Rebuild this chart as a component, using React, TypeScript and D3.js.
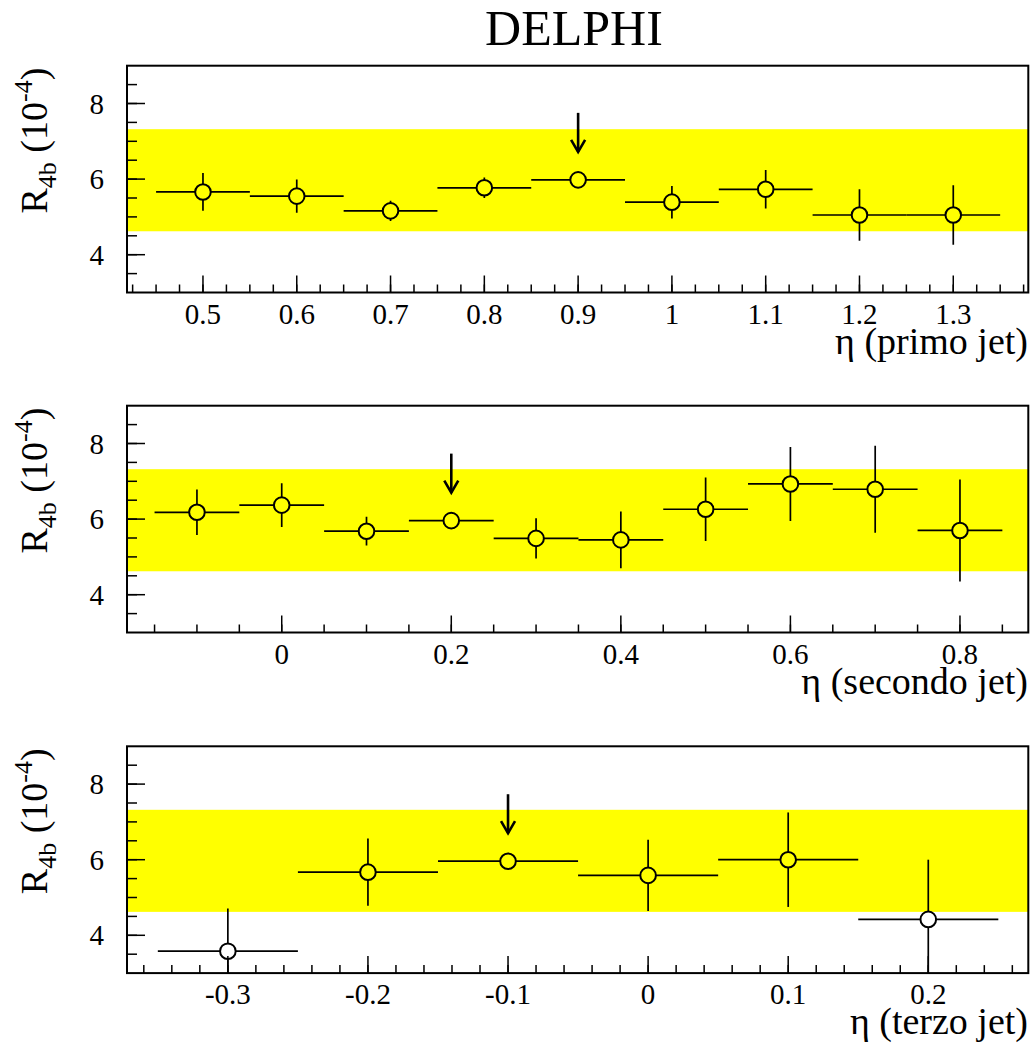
import React from 'react';
import * as d3 from 'd3';

// ---------- data ----------
const title = 'DELPHI';
const yLabelMain = 'R';
const yLabelSub = '4b';
const yLabelExpBase = ' (10';
const yLabelExp = '-4';
const xLabels = ['η (primo jet)', 'η (secondo jet)', 'η (terzo jet)'];

const bandLow = 4.62;
const bandHigh = 7.32;
const binHalfWidth = 0.05;

const eta1 = [0.5, 0.6, 0.7, 0.8, 0.9, 1.0, 1.1, 1.2, 1.3];
const r1 = [5.66, 5.55, 5.16, 5.77, 5.98, 5.39, 5.73, 5.05, 5.05];
const err1 = [0.5, 0.44, 0.27, 0.27, 0.15, 0.43, 0.51, 0.68, 0.79];

const eta2 = [-0.1, 0.0, 0.1, 0.2, 0.3, 0.4, 0.5, 0.6, 0.7, 0.8];
const r2 = [6.18, 6.37, 5.68, 5.96, 5.49, 5.45, 6.26, 6.93, 6.79, 5.7];
const err2 = [0.6, 0.58, 0.38, 0.15, 0.53, 0.75, 0.84, 0.98, 1.15, 1.35];

const eta3 = [-0.3, -0.2, -0.1, 0.0, 0.1, 0.2];
const r3 = [3.58, 5.67, 5.96, 5.585, 6.0, 4.42];
const err3 = [1.13, 0.89, 0.15, 0.94, 1.25, 1.58];

const arrowEta = [0.9, 0.2, -0.1];

const xDomains = [
  [0.419, 1.38],
  [-0.1825, 0.8806],
  [-0.372, 0.2714],
];
const xMajorTicks = [
  [0.5, 0.6, 0.7, 0.8, 0.9, 1.0, 1.1, 1.2, 1.3],
  [0.0, 0.2, 0.4, 0.6, 0.8],
  [-0.3, -0.2, -0.1, 0.0, 0.1, 0.2],
];
const xMinorSteps = [0.025, 0.05, 0.02];
const yDomain = [3, 9];
const yMajorTicks = [4, 6, 8];
const yMinorStep = 0.5;

// ---------- layout ----------
const W = 1033;
const H = 1048;
const frameLeft = 127;
const frameRight = 1028.3;
const panelTops = [65.7, 405.7, 746.3];
const panelHeight = 226.8;
const markerR = 7.8;
const FONT = '"Liberation Serif", "DejaVu Serif", serif';

const fmt = (v: number) => {
  const s = (Math.round(v * 10) / 10).toString();
  return s === '-0' ? '0' : s;
};

type PanelProps = {
  idx: number;
  eta: number[];
  r: number[];
  err: number[];
};

function Panel({ idx, eta, r, err }: PanelProps) {
  const top = panelTops[idx];
  const bottom = top + panelHeight;
  const x = d3.scaleLinear().domain(xDomains[idx]).range([frameLeft, frameRight]);
  const y = d3.scaleLinear().domain(yDomain).range([bottom, top]);
  const clipId = `clip${idx}`;

  const [d0, d1] = xDomains[idx];
  const step = xMinorSteps[idx];
  const minor: number[] = [];
  for (let k = Math.ceil(d0 / step - 1e-6); k * step <= d1 + 1e-9; k++) minor.push(k * step);
  const yMinor: number[] = [];
  for (let v = yDomain[0] + yMinorStep; v < yDomain[1] - 1e-9; v += yMinorStep) yMinor.push(v);

  const arrowI = eta.findIndex((e) => Math.abs(e - arrowEta[idx]) < 1e-9);
  const ax = x(eta[arrowI]);
  const ay = y(r[arrowI]);
  const tipY = ay - 28;
  const tailY = tipY - 39;

  return (
    <g>
      <defs>
        <clipPath id={clipId}>
          <rect x={frameLeft} y={top} width={frameRight - frameLeft} height={panelHeight} />
        </clipPath>
      </defs>
      {/* band */}
      <rect
        x={frameLeft}
        y={y(bandHigh)}
        width={frameRight - frameLeft}
        height={y(bandLow) - y(bandHigh)}
        fill="#ffff00"
      />
      {/* data */}
      <g clipPath={`url(#${clipId})`} stroke="#000" strokeWidth={1.7} fill="none">
        {eta.map((e, i) => {
          const cx = x(e);
          const cy = y(r[i]);
          const xl = x(e - binHalfWidth);
          const xr = x(e + binHalfWidth);
          const yt = y(r[i] + err[i]);
          const yb = y(r[i] - err[i]);
          return (
            <g key={i}>
              <line x1={xl} x2={cx - markerR} y1={cy} y2={cy} />
              <line x1={cx + markerR} x2={xr} y1={cy} y2={cy} />
              {yt < cy - markerR && <line x1={cx} x2={cx} y1={yt} y2={cy - markerR} />}
              {yb > cy + markerR && <line x1={cx} x2={cx} y1={cy + markerR} y2={yb} />}
              <circle cx={cx} cy={cy} r={markerR} strokeWidth={2} />
            </g>
          );
        })}
      </g>
      {/* arrow */}
      <g stroke="#000" strokeWidth={2.6} fill="none">
        <line x1={ax} x2={ax} y1={tailY} y2={tipY} />
        <polyline points={`${ax - 7},${tipY - 12} ${ax},${tipY} ${ax + 7},${tipY - 12}`} strokeLinejoin="miter" />
      </g>
      {/* frame */}
      <rect
        x={frameLeft}
        y={top}
        width={frameRight - frameLeft}
        height={panelHeight}
        fill="none"
        stroke="#000"
        strokeWidth={2}
      />
      {/* ticks */}
      <g stroke="#000" strokeWidth={1.5}>
        {minor.map((v, i) => (
          <line key={i} x1={x(v)} x2={x(v)} y1={bottom} y2={bottom - 8} />
        ))}
        {xMajorTicks[idx].map((v, i) => (
          <line key={'M' + i} x1={x(v)} x2={x(v)} y1={bottom} y2={bottom - 17} />
        ))}
        {yMinor.map((v, i) => (
          <line key={'y' + i} x1={frameLeft} x2={frameLeft + 10} y1={y(v)} y2={y(v)} />
        ))}
        {yMajorTicks.map((v, i) => (
          <line key={'yM' + i} x1={frameLeft} x2={frameLeft + 18} y1={y(v)} y2={y(v)} />
        ))}
      </g>
      <g fontFamily={FONT} fontSize={29} fill="#000">
        {xMajorTicks[idx].map((v, i) => (
          <text key={i} x={x(v)} y={bottom + 31} textAnchor="middle">
            {fmt(v)}
          </text>
        ))}
        {yMajorTicks.map((v, i) => (
          <text key={'y' + i} x={frameLeft - 23} y={y(v) + 10} textAnchor="end">
            {fmt(v)}
          </text>
        ))}
      </g>
      <text x={1028} y={bottom + 61} textAnchor="end" fontFamily={FONT} fontSize={38}>
        {xLabels[idx]}
      </text>
      <text
        transform={`translate(47,${top + 2}) rotate(-90)`}
        textAnchor="end"
        fontFamily={FONT}
        fontSize={38}
      >
        <tspan>{yLabelMain}</tspan>
        <tspan fontSize={26} dy={9}>
          {yLabelSub}
        </tspan>
        <tspan dy={-9}>{yLabelExpBase}</tspan>
        <tspan fontSize={26} dy={-15}>
          {yLabelExp}
        </tspan>
        <tspan dy={15}>)</tspan>
      </text>
    </g>
  );
}

export default function App() {
  return (
    <svg
      width={W}
      height={H}
      viewBox={`0 0 ${W} ${H}`}
      style={{ position: 'absolute', left: 0, top: 0, background: '#fff' }}
    >
      <rect x={0} y={0} width={W} height={H} fill="#fff" />
      <text x={574} y={45} textAnchor="middle" fontFamily={FONT} fontSize={50}>
        {title}
      </text>
      <Panel idx={0} eta={eta1} r={r1} err={err1} />
      <Panel idx={1} eta={eta2} r={r2} err={err2} />
      <Panel idx={2} eta={eta3} r={r3} err={err3} />
    </svg>
  );
}
